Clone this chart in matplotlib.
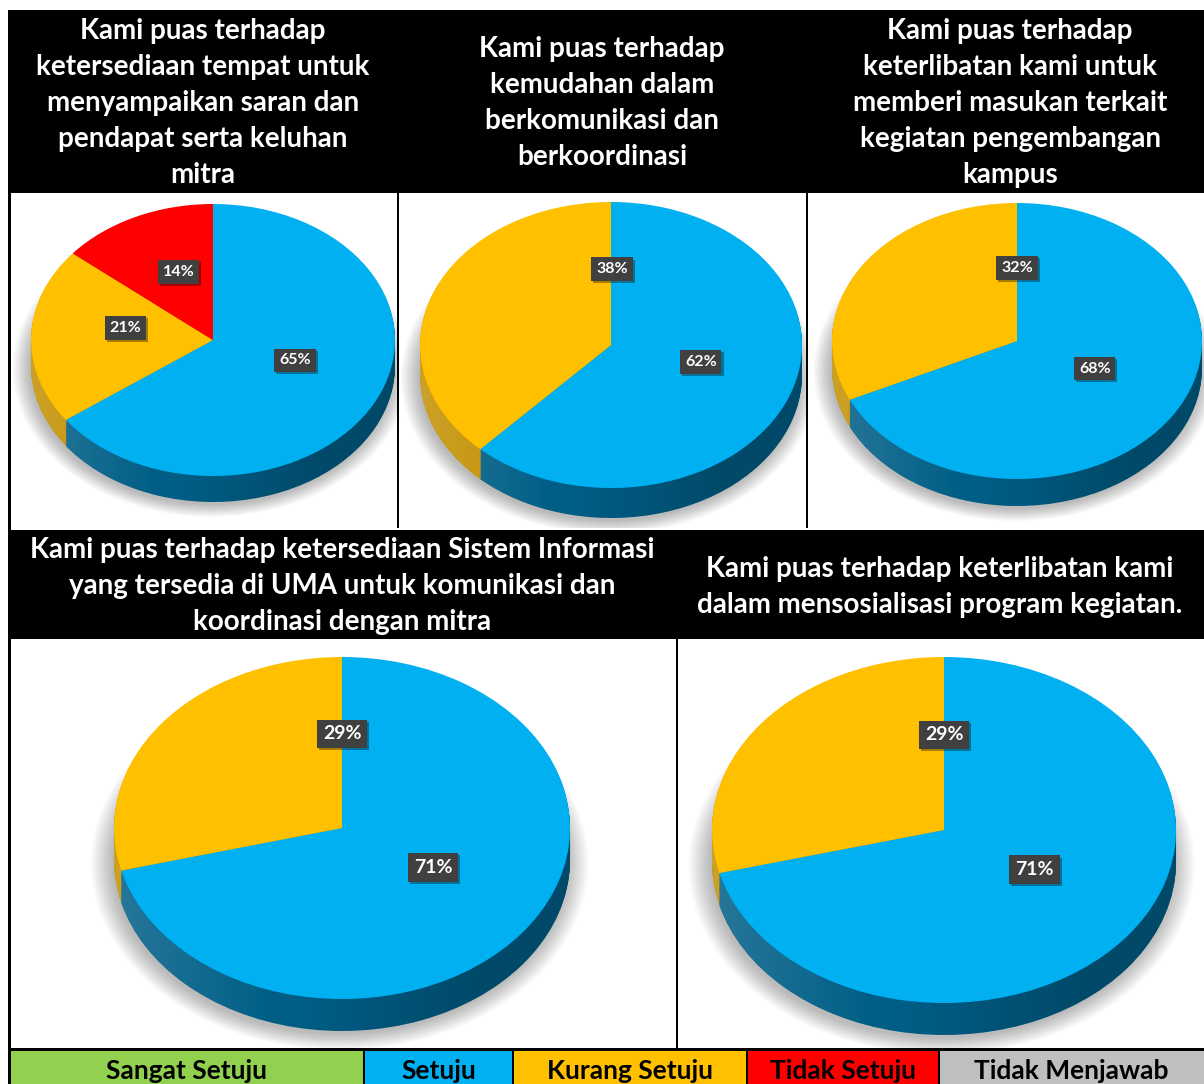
import matplotlib
matplotlib.use('Agg')
import matplotlib.pyplot as plt
import numpy as np
from matplotlib.patches import Rectangle, Ellipse, PathPatch
from matplotlib.path import Path
import matplotlib.patheffects as pe

W, H = 1204, 1084
FONT = ['Lato', 'DejaVu Sans']
plt.rcParams['font.family'] = FONT

# ---------------- data ----------------
categories = ['Sangat Setuju', 'Setuju', 'Kurang Setuju', 'Tidak Setuju', 'Tidak Menjawab']
cat_colors = ['#92D050', '#00B0F0', '#FFC000', '#FF0000', '#BFBFBF']
side_colors = ['#5E8C2A', '#005E86', '#C28F00', '#A80000', '#808080']

titles = [
    ['Kami puas terhadap', 'ketersediaan tempat untuk', 'menyampaikan saran dan',
     'pendapat serta keluhan', 'mitra'],
    ['Kami puas terhadap', 'kemudahan dalam', 'berkomunikasi dan', 'berkoordinasi'],
    ['Kami puas terhadap', 'keterlibatan kami untuk', 'memberi masukan terkait',
     'kegiatan pengembangan', 'kampus'],
    ['Kami puas terhadap ketersediaan Sistem Informasi',
     'yang tersedia di UMA untuk komunikasi dan', 'koordinasi dengan mitra'],
    ['Kami puas terhadap keterlibatan kami', 'dalam mensosialisasi program kegiatan.'],
]

# percentages per panel, per category
sangat_setuju = [0, 0, 0, 0, 0]
setuju = [65, 62, 68, 71, 71]
kurang_setuju = [21, 38, 32, 29, 29]
tidak_setuju = [14, 0, 0, 0, 0]
tidak_menjawab = [0, 0, 0, 0, 0]

# ---------------- layout ----------------
boxes = [(10, 193, 397, 528), (399, 193, 806, 528), (808, 193, 1204, 528),
         (10, 639, 676, 1048), (678, 639, 1204, 1048)]
ellipses = [(213, 340, 182, 136, 26), (611, 345, 191, 143, 30), (1017, 341, 185, 138, 27),
            (342, 828, 228, 171, 32), (944, 830, 232, 173, 32)]
title_pos = [(203, 31), (602, 49), (1010, 31), (342, 550), (940, 569)]
label_pos = [
    {1: (0.45, -0.15), 2: (-0.48, 0.09), 3: (-0.19, 0.50)},
    {1: (0.47, -0.12), 2: (0.005, 0.53)},
    {1: (0.42, -0.20), 2: (0.0, 0.53)},
    {1: (0.40, -0.23), 2: (0.0, 0.55)},
    {1: (0.39, -0.23), 2: (0.0, 0.55)},
]
label_size = [11.5, 11.5, 11.5, 14, 14]
legend_edges = [10, 364, 513, 747, 939, 1204]

fig = plt.figure(figsize=(W / 100, H / 100), dpi=100)
bg = fig.add_axes([0, 0, 1, 1])
bg.set_xlim(0, W)
bg.set_ylim(H, 0)
bg.axis('off')

bg.add_patch(Rectangle((8, 10), W - 8, 183, fc='black', ec='none'))
bg.add_patch(Rectangle((8, 530), W - 8, 109, fc='black', ec='none'))
bg.add_patch(Rectangle((8, 10), 2.5, H - 10, fc='black', ec='none', zorder=5))
bg.add_patch(Rectangle((396.5, 193), 2.5, 335, fc='black', ec='none', zorder=5))
bg.add_patch(Rectangle((805.5, 193), 2.5, 335, fc='black', ec='none', zorder=5))
bg.add_patch(Rectangle((675.5, 639), 2.5, 410, fc='black', ec='none', zorder=5))
bg.add_patch(Rectangle((8, 1047.5), W - 8, 3, fc='black', ec='none', zorder=5))

for lines, (tx, ty) in zip(titles, title_pos):
    for i, ln in enumerate(lines):
        bg.text(tx, ty + i * 36, ln, color='white', fontsize=20, fontweight='bold',
                ha='center', va='center')

for i, cat in enumerate(categories):
    x0, x1 = legend_edges[i], legend_edges[i + 1]
    bg.add_patch(Rectangle((x0, 1050.5), x1 - x0, H - 1050.5, fc=cat_colors[i], ec='none'))
    if i > 0:
        bg.add_patch(Rectangle((x0 - 1, 1050.5), 2, H - 1050.5, fc='black', ec='none', zorder=4))
    bg.text((x0 + x1) / 2, 1071, cat, color='black', fontsize=19, fontweight='bold',
            ha='center', va='center')

all_vals = list(zip(sangat_setuju, setuju, kurang_setuju, tidak_setuju, tidak_menjawab))

for p in range(5):
    x0, y0, x1, y1 = boxes[p]
    cx, cy, rx, ry, dpx = ellipses[p]
    ax = fig.add_axes([x0 / W, 1 - y1 / H, (x1 - x0) / W, (y1 - y0) / H])
    vals = all_vals[p]
    idx = [i for i, v in enumerate(vals) if v > 0]
    v = [vals[i] for i in idx]
    top_c = [cat_colors[i] for i in idx]
    side_c = [side_colors[i] for i in idx]
    d = dpx / ry

    # soft shadow
    for s in np.linspace(0.09, 0.0, 12):
        ax.add_patch(Ellipse((-0.01, -d - 0.02), 2 * (1 + s), 2 * (1 + s),
                             fc='black', ec='none', alpha=0.025, zorder=0))
    # side (stacked)
    n = int(dpx) + 2
    for k in range(n, 0, -1):
        ax.pie(v, colors=side_c, startangle=90, counterclock=False,
               center=(0, -d * k / n), radius=1.0,
               wedgeprops=dict(linewidth=0, edgecolor='none', zorder=1))
    # side shading gradient
    t = np.linspace(np.pi, 2 * np.pi, 200)
    top = np.c_[np.cos(t), np.sin(t)]
    bot = np.c_[np.cos(t[::-1]), np.sin(t[::-1]) - d]
    verts = np.vstack([top, bot, top[:1]])
    clip = PathPatch(Path(verts), transform=ax.transData, fc='none', ec='none')
    ax.add_patch(clip)
    xs = np.linspace(-1, 1, 256)
    grad = np.zeros((1, 256, 4))
    wa = np.clip((-0.3 - xs) / 0.7, 0, 1) * 0.16
    ba = np.clip((xs + 0.2) / 0.8, 0, 1) * 0.22
    grad[0, :, :3] = np.where(wa[:, None] > 0, 1.0, 0.0)
    grad[0, :, 3] = wa + ba
    im = ax.imshow(grad, extent=[-1, 1, -1 - d, 0], aspect='auto', zorder=2,
                   interpolation='bilinear')
    im.set_clip_path(clip)
    ax.pie(v, colors=top_c, startangle=90, counterclock=False, center=(0, 0),
           radius=1.0, wedgeprops=dict(linewidth=0, edgecolor='none', zorder=3))

    for i in idx:
        lx, ly = label_pos[p][i]
        txt = ax.text(lx, ly, f'{vals[i]}%', color='white', fontsize=label_size[p],
                      fontweight='bold', ha='center', va='center', zorder=6,
                      bbox=dict(boxstyle='square,pad=0.3', fc='#404040', ec='none'))
        txt.get_bbox_patch().set_path_effects(
            [pe.SimplePatchShadow(offset=(1.5, -1.5), shadow_rgbFace='black', alpha=0.35),
             pe.Normal()])

    ax.set_aspect('auto')
    ax.set_xlim((x0 - cx) / rx, (x1 - cx) / rx)
    ax.set_ylim((cy - y1) / ry, (cy - y0) / ry)
    ax.axis('off')

fig.savefig('out.png', dpi=100)
